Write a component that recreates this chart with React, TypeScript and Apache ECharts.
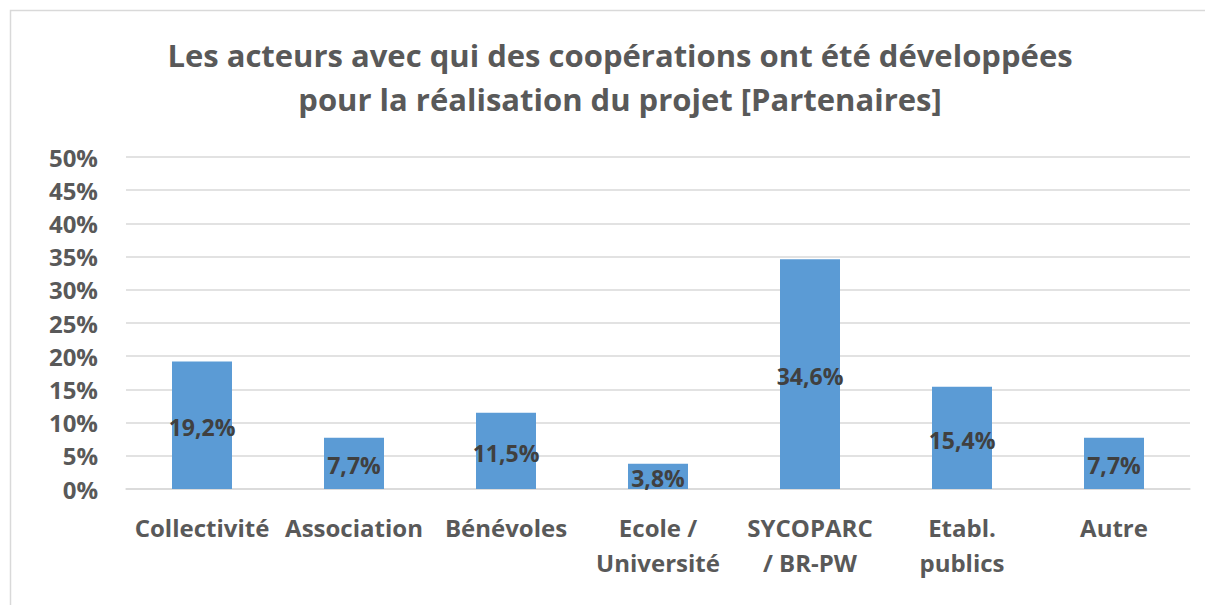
import React, { useEffect, useRef } from "react";
import * as echarts from "echarts";

const categories = [
  "Collectivité",
  "Association",
  "Bénévoles",
  "Ecole /\nUniversité",
  "SYCOPARC\n/ BR-PW",
  "Etabl.\npublics",
  "Autre",
];
const values = [19.2, 7.7, 11.5, 3.8, 34.6, 15.4, 7.7];
const yTicks = { min: 0, max: 50, interval: 5 };
const titleLines = [
  "Les acteurs avec qui des coopérations ont été développées",
  "pour la réalisation du projet [Partenaires]",
];

const FONT = "Open Sans";

export default function App() {
  const ref = useRef<HTMLDivElement>(null);
  useEffect(() => {
    if (!ref.current) return;
    const chart = echarts.init(ref.current, null, { renderer: "svg" });
    chart.setOption({
      animation: false,
      backgroundColor: "#ffffff",
      graphic: [
        {
          type: "rect",
          shape: { x: 10.5, y: 10.5, width: 1220, height: 620 },
          style: { fill: "none", stroke: "#d9d9d9", lineWidth: 1.5 },
          silent: true,
        },
      ],
      title: {
        text: titleLines.join("\n"),
        left: 615,
        textAlign: "center",
        top: 28,
        textStyle: {
          fontFamily: FONT,
          fontWeight: "bold",
          fontSize: 31,
          color: "#595959",
          lineHeight: 44,
        },
      },
      grid: { left: 126, right: 15, top: 157, bottom: 116, containLabel: false },
      xAxis: {
        type: "category",
        data: categories,
        axisLine: { lineStyle: { color: "#d9d9d9", width: 1.5 } },
        axisTick: { show: false },
        axisLabel: {
          fontFamily: FONT,
          fontWeight: "bold",
          fontSize: 24,
          color: "#595959",
          margin: 21,
          lineHeight: 35,
          interval: 0,
          verticalAlign: "top",
        },
      },
      yAxis: {
        type: "value",
        min: yTicks.min,
        max: yTicks.max,
        interval: yTicks.interval,
        axisLine: { show: false },
        axisTick: { show: false },
        splitLine: { lineStyle: { color: "#d9d9d9", width: 1.5 } },
        axisLabel: {
          fontFamily: FONT,
          fontWeight: "bold",
          fontSize: 24,
          color: "#595959",
          margin: 28,
          formatter: (v: number) => `${v}%`,
        },
      },
      series: [
        {
          type: "bar",
          data: values,
          barWidth: 60,
          itemStyle: { color: "#5b9bd5" },
          label: {
            show: true,
            position: "inside",
            fontFamily: FONT,
            fontWeight: "bold",
            fontSize: 23,
            color: "#404040",
            offset: [0, 2],
            formatter: (p: any) => `${String(p.value.toFixed(1)).replace(".", ",")}%`,
          },
        },
      ],
    });
    return () => chart.dispose();
  }, []);
  return (
    <div
      ref={ref}
      style={{ position: "fixed", left: 0, top: 0, width: 1205, height: 605 }}
    />
  );
}
